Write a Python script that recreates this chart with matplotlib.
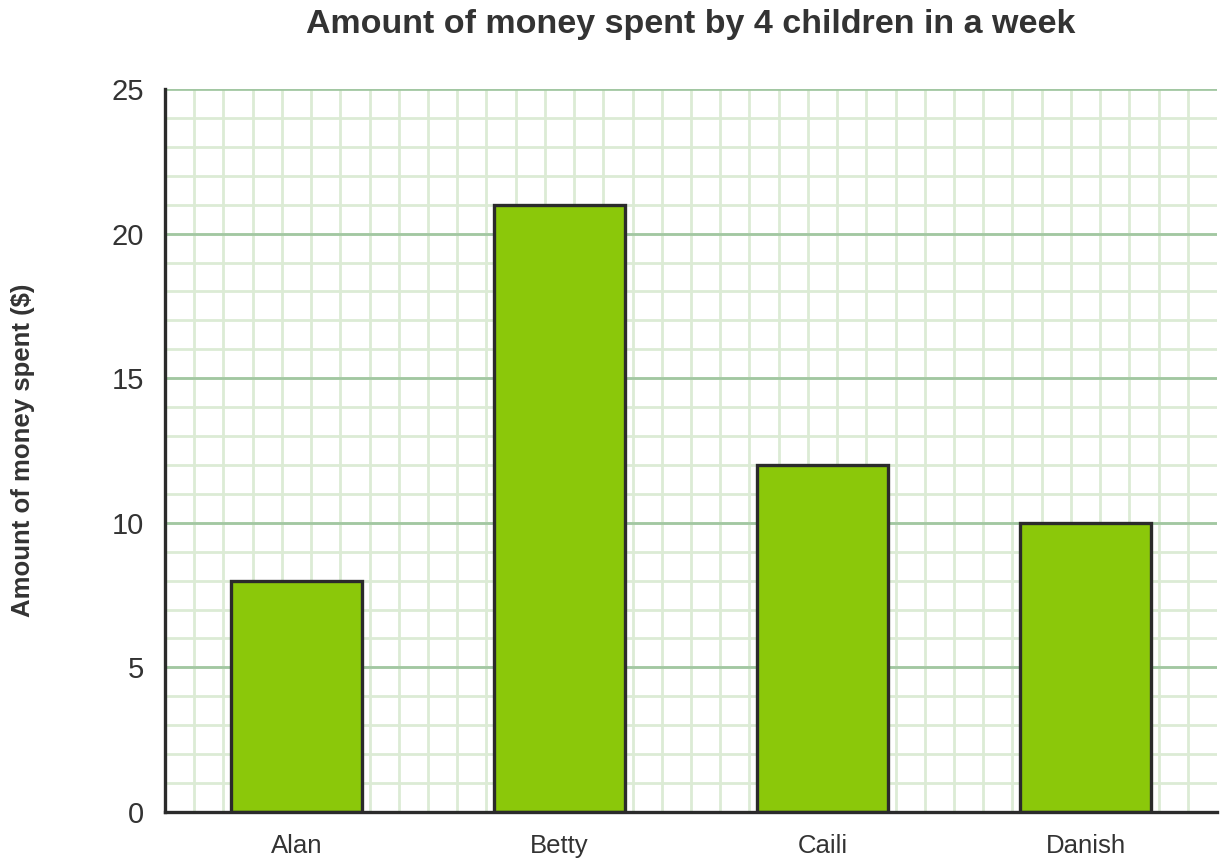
import numpy as np
import matplotlib.pyplot as plt

# data
children = ['Alan', 'Betty', 'Caili', 'Danish']
spent = [8, 21, 12, 10]
y_ticks = [0, 5, 10, 15, 20, 25]

plt.rcParams['font.family'] = ['Liberation Sans', 'DejaVu Sans']

fig = plt.figure(figsize=(12.25, 8.66), dpi=100)
ax = fig.add_axes([165 / 1225, 1 - 812 / 866, 1052 / 1225, 723 / 866])

x = np.arange(len(children))
ax.set_xlim(-0.5, len(children) - 0.5)
ax.set_ylim(0, 25)

# minor grid (square cells)
for xv in np.arange(-0.5, len(children) - 0.5, 1 / 9)[1:]:
    ax.axvline(xv, color='#dcebd5', lw=2, zorder=0)
for yv in range(1, 25):
    ax.axhline(yv, color='#dcebd5', lw=2, zorder=0)
# major grid
for yv in y_ticks[1:]:
    ax.axhline(yv, color='#a2c7a2', lw=2, zorder=1)

ax.bar(x, spent, width=0.5, color='#8bc80a', edgecolor='#2b2b2b',
       linewidth=2.4, zorder=3)

ax.set_xticks(x)
ax.set_xticklabels(children, fontsize=18.5, color='#333333')
ax.set_yticks(y_ticks)
ax.set_yticklabels([str(v) for v in y_ticks], fontsize=21, color='#333333')
ax.tick_params(axis='both', length=0)
ax.tick_params(axis='y', pad=15)
ax.tick_params(axis='x', pad=16)

for side in ['top', 'right']:
    ax.spines[side].set_visible(False)
for side in ['left', 'bottom']:
    ax.spines[side].set_color('#2b2b2b')
    ax.spines[side].set_linewidth(2.4)
    ax.spines[side].set_zorder(4)

ax.set_ylabel('Amount of money spent ($)', fontsize=18.5, fontweight='bold',
              color='#333333', labelpad=55)
ax.set_title('Amount of money spent by 4 children in a week', fontsize=24.5,
             fontweight='bold', color='#333333', pad=40)

fig.savefig('out.png', dpi=100)
